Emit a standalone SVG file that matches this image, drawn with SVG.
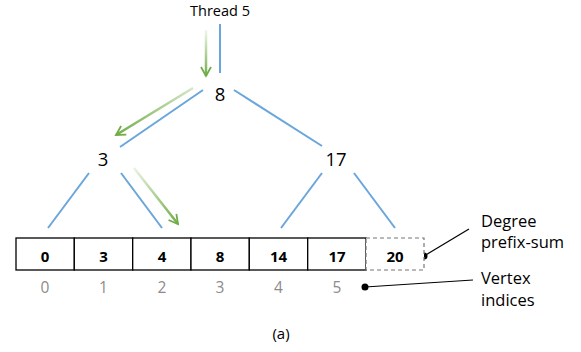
<svg xmlns="http://www.w3.org/2000/svg" width="581" height="352" viewBox="0 0 581 352">
  <style>
    text { font-family: "Open Sans", "Liberation Sans", sans-serif; fill: #000; }
    .tree { font-size: 18.5px; text-anchor: middle; }
    .cell { fill: #fff; stroke: #000; stroke-width: 1.3; }
    .dash { fill: #fff; stroke: #777; stroke-width: 1.2; stroke-dasharray: 4 3; }
    .val { font-size: 15px; font-weight: bold; text-anchor: middle; }
    .idx { font-size: 15.5px; fill: #8c8c8c; text-anchor: middle; }
    .edge { stroke: #6aa6dc; stroke-width: 2; fill: none; }
    .walk { stroke-width: 2.5; fill: none; marker-end: url(#head); }
    .lbl { font-size: 16.5px; }
    .lead { stroke: #000; stroke-width: 1.2; fill: none; }
  </style>
  <defs>
    <marker id="head" viewBox="0 0 12 12" refX="10" refY="6" markerWidth="12" markerHeight="12" markerUnits="userSpaceOnUse" orient="auto">
      <path d="M1,1 L10,6 L1,11" fill="none" stroke="#70ad47" stroke-width="1.8"/>
    </marker>
    <linearGradient id="g1" gradientUnits="userSpaceOnUse" x1="206" y1="30" x2="206" y2="76">
      <stop offset="0" stop-color="#70ad47" stop-opacity="0.1"/>
      <stop offset="1" stop-color="#70ad47"/>
    </linearGradient>
    <linearGradient id="g2" gradientUnits="userSpaceOnUse" x1="193" y1="88" x2="116" y2="135">
      <stop offset="0" stop-color="#70ad47" stop-opacity="0.3"/>
      <stop offset="1" stop-color="#70ad47"/>
    </linearGradient>
    <linearGradient id="g3" gradientUnits="userSpaceOnUse" x1="134" y1="168" x2="178" y2="224">
      <stop offset="0" stop-color="#70ad47" stop-opacity="0.15"/>
      <stop offset="1" stop-color="#70ad47"/>
    </linearGradient>
  </defs>

  <!-- tree edges and traversal path -->
  <g id="connectors">
    <line class="edge" x1="220" y1="24" x2="220" y2="73"/>
    <line class="edge" x1="203" y1="90" x2="120" y2="147"/>
    <line class="edge" x1="234" y1="90" x2="322" y2="146"/>
    <line class="edge" x1="89" y1="173" x2="48" y2="228"/>
    <line class="edge" x1="121" y1="173" x2="162" y2="228"/>
    <line class="edge" x1="322" y1="173" x2="281" y2="228"/>
    <line class="edge" x1="354" y1="173" x2="395" y2="228"/>
    <line class="walk" stroke="url(#g1)" x1="206" y1="30" x2="206" y2="76"/>
    <line class="walk" stroke="url(#g2)" x1="193" y1="88" x2="116" y2="135"/>
    <line class="walk" stroke="url(#g3)" x1="134" y1="168" x2="178" y2="224"/>
    <line class="lead" x1="424" y1="256" x2="469" y2="229"/>
    <line class="lead" x1="365" y1="287" x2="473" y2="280"/>
    <circle cx="424" cy="256" r="3.5" fill="#000"/>
    <circle cx="365" cy="287" r="3.5" fill="#000"/>
  </g>

  <g id="thread">
    <text x="220" y="16" font-size="14.5" text-anchor="middle">Thread 5</text>
  </g>
  <g id="node-8"><text class="tree" x="220" y="100.5">8</text></g>
  <g id="node-3"><text class="tree" x="103" y="165.5">3</text></g>
  <g id="node-17"><text class="tree" x="336" y="165.5">17</text></g>

  <!-- degree prefix-sum array -->
  <g id="array">
    <rect class="cell" x="16" y="238" width="58.3" height="32"/>
    <rect class="cell" x="74.3" y="238" width="58.4" height="32"/>
    <rect class="cell" x="132.7" y="238" width="58.3" height="32"/>
    <rect class="cell" x="191" y="238" width="58.3" height="32"/>
    <rect class="cell" x="249.3" y="238" width="58.4" height="32"/>
    <rect class="cell" x="307.7" y="238" width="58.3" height="32"/>
    <rect class="dash" x="366" y="238" width="58" height="32"/>
    <text class="val" x="45" y="261.5">0</text>
    <text class="val" x="103.5" y="261.5">3</text>
    <text class="val" x="162" y="261.5">4</text>
    <text class="val" x="220" y="261.5">8</text>
    <text class="val" x="278.5" y="261.5">14</text>
    <text class="val" x="337" y="261.5">17</text>
    <text class="val" x="395" y="261.5">20</text>
  </g>

  <g id="indices">
    <text class="idx" x="45" y="293">0</text>
    <text class="idx" x="103.5" y="293">1</text>
    <text class="idx" x="162" y="293">2</text>
    <text class="idx" x="220" y="293">3</text>
    <text class="idx" x="278.5" y="293">4</text>
    <text class="idx" x="337" y="293">5</text>
  </g>

  <g id="label-degree">
    <text class="lbl" x="481" y="226.5">Degree</text>
    <text class="lbl" x="481" y="247.5">prefix-sum</text>
  </g>
  <g id="label-vertex">
    <text class="lbl" x="481" y="284">Vertex</text>
    <text class="lbl" x="481" y="305.5">indices</text>
  </g>

  <g id="caption">
    <text x="281" y="339" font-size="15" text-anchor="middle">(a)</text>
  </g>
</svg>
